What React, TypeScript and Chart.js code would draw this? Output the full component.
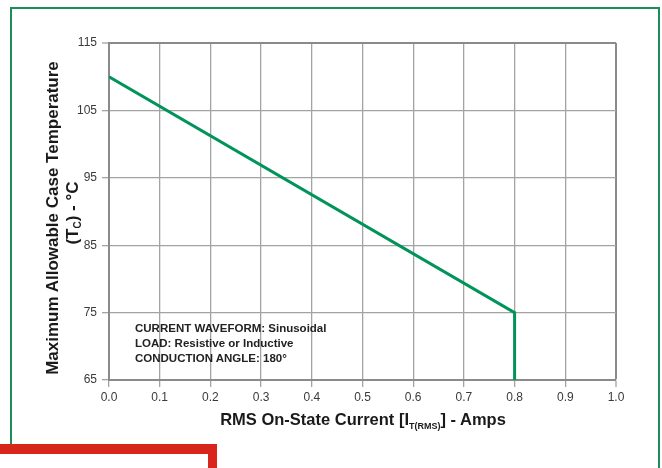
import React, { useEffect, useRef } from "react";
import { Chart, registerables } from "chart.js";

Chart.register(...registerables);

// ---- data ----
const currentAmps = [0.0, 0.8, 0.8];
const caseTempC = [110, 75, 65];
const xTickValues = [0.0, 0.1, 0.2, 0.3, 0.4, 0.5, 0.6, 0.7, 0.8, 0.9, 1.0];
const yTickValues = [65, 75, 85, 95, 105, 115];
const noteLines = [
  "CURRENT WAVEFORM: Sinusoidal",
  "LOAD: Resistive or Inductive",
  "CONDUCTION ANGLE: 180°",
];

const GRID = "#a3a3a3";
const EDGE = "#8a8a8a";
const TICK_FONT = { family: "'Liberation Sans', Arial, Helvetica, sans-serif", size: 12 };

export default function App() {
  const canvasRef = useRef<HTMLCanvasElement | null>(null);

  useEffect(() => {
    const canvas = canvasRef.current;
    if (!canvas) return;
    const chart = new Chart(canvas, {
      type: "scatter",
      data: {
        datasets: [
          {
            data: currentAmps.map((x, i) => ({ x, y: caseTempC[i] })),
            showLine: true,
            borderColor: "#00935a",
            backgroundColor: "#00935a",
            borderWidth: 3,
            pointRadius: 0,
            tension: 0,
          },
        ],
      },
      options: {
        animation: false,
        responsive: false,
        maintainAspectRatio: false,
        layout: { padding: { left: 0, top: 43, right: 46, bottom: 0 } },
        plugins: { legend: { display: false }, tooltip: { enabled: false } },
        scales: {
          x: {
            type: "linear",
            min: 0,
            max: 1,
            afterBuildTicks: (scale: any) => {
              scale.ticks = xTickValues.map((v) => ({ value: v }));
            },
            afterFit: (scale: any) => {
              scale.height = 468 - 380;
            },
            ticks: {
              callback: (v: any) => Number(v).toFixed(1),
              font: TICK_FONT,
              color: "#3a3a3a",
              padding: 3,
              maxRotation: 0,
              autoSkip: false,
            },
            grid: {
              color: (ctx: any) => (ctx.tick && ctx.tick.value === 1 ? EDGE : GRID),
              lineWidth: (ctx: any) => (ctx.tick && ctx.tick.value === 1 ? 2 : 1.3),
              tickLength: 7,
              tickColor: GRID,
              tickWidth: 1.3,
            },
            border: { display: true, color: EDGE, width: 2 },
          },
          y: {
            type: "linear",
            min: 65,
            max: 115,
            afterBuildTicks: (scale: any) => {
              scale.ticks = yTickValues.map((v) => ({ value: v }));
            },
            afterFit: (scale: any) => {
              scale.width = 109;
            },
            ticks: {
              font: TICK_FONT,
              color: "#3a3a3a",
              padding: 5,
              autoSkip: false,
            },
            grid: {
              color: (ctx: any) => (ctx.tick && ctx.tick.value === 115 ? EDGE : GRID),
              lineWidth: (ctx: any) => (ctx.tick && ctx.tick.value === 115 ? 2 : 1.3),
              tickLength: 7,
              tickColor: GRID,
              tickWidth: 1.3,
            },
            border: { display: true, color: EDGE, width: 2 },
          },
        },
      },
    });
    return () => chart.destroy();
  }, []);

  const boldFont = "'Liberation Sans', Arial, Helvetica, sans-serif";

  return (
    <div
      style={{
        position: "absolute",
        left: 0,
        top: 0,
        width: 662,
        height: 468,
        overflow: "hidden",
        background: "#ffffff",
        fontFamily: boldFont,
      }}
    >
      {/* green frame */}
      <div
        style={{
          position: "absolute",
          left: 10,
          top: 7,
          width: 646,
          height: 520,
          border: "2px solid #1b8e59",
          borderBottom: "none",
        }}
      />
      <canvas
        ref={canvasRef}
        width={662}
        height={468}
        style={{ position: "absolute", left: 0, top: 0, width: 662, height: 468 }}
      />
      {/* y axis title */}
      <div
        style={{
          position: "absolute",
          left: 53,
          top: 218,
          transform: "translate(-50%, -50%) rotate(-90deg)",
          whiteSpace: "nowrap",
          fontWeight: "bold",
          fontSize: 17,
          color: "#1a1a1a",
          lineHeight: "18px",
        }}
      >
        Maximum Allowable Case Temperature
      </div>
      <div
        style={{
          position: "absolute",
          left: 75,
          top: 213,
          transform: "translate(-50%, -50%) rotate(-90deg)",
          whiteSpace: "nowrap",
          fontWeight: "bold",
          fontSize: 17,
          color: "#1a1a1a",
          lineHeight: "18px",
        }}
      >
        (T<sub style={{ fontSize: 10, verticalAlign: "-3px" }}>C</sub>) - °C
      </div>
      {/* x axis title */}
      <div
        style={{
          position: "absolute",
          left: 363,
          top: 422,
          transform: "translate(-50%, -50%)",
          whiteSpace: "nowrap",
          fontWeight: "bold",
          fontSize: 16.5,
          color: "#1a1a1a",
          lineHeight: "18px",
        }}
      >
        RMS On-State Current [I<sub style={{ fontSize: 9, verticalAlign: "-4px" }}>T(RMS)</sub>] - Amps
      </div>
      {/* conditions note */}
      <div
        style={{
          position: "absolute",
          left: 135,
          top: 321,
          fontWeight: "bold",
          fontSize: 11.5,
          lineHeight: "15px",
          color: "#222222",
          whiteSpace: "nowrap",
        }}
      >
        {noteLines.map((t) => (
          <div key={t}>{t}</div>
        ))}
      </div>
      {/* red box at the bottom-left */}
      <div
        style={{
          position: "absolute",
          left: 0,
          top: 444,
          width: 217,
          height: 40,
          boxSizing: "border-box",
          borderTop: "10px solid #d9261c",
          borderRight: "9px solid #d9261c",
          background: "#ffffff",
        }}
      />
    </div>
  );
}
